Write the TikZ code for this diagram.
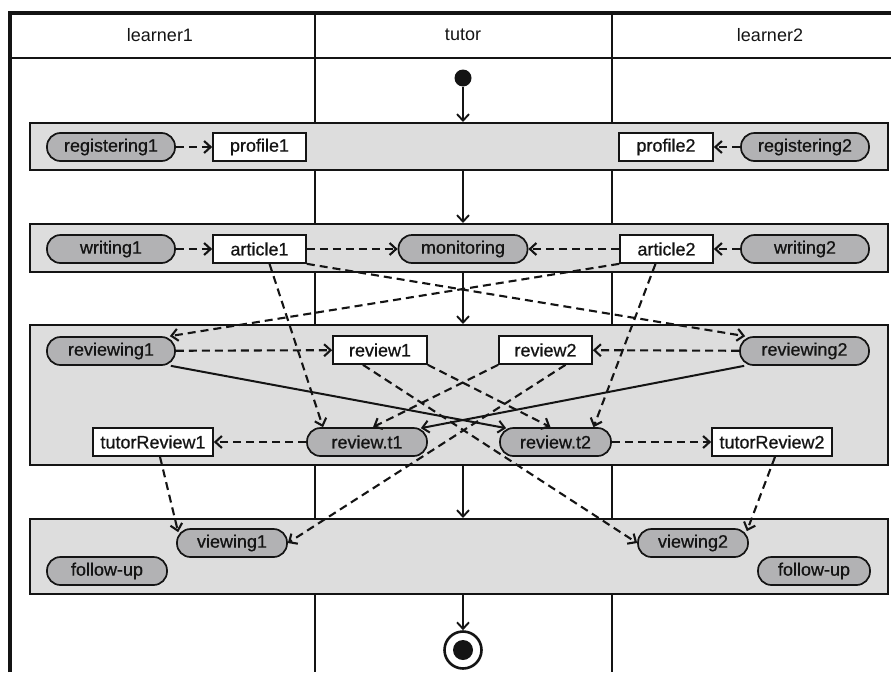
\documentclass[tikz,border=0pt]{standalone}
\usepackage{fontspec}
\setmainfont{Liberation Sans}
\newfontfamily\labelfont[FakeBold=0.7]{Liberation Sans}
\usetikzlibrary{arrows.meta,calc}

\definecolor{bandgray}{RGB}{221,221,221}
\definecolor{actgray}{RGB}{178,178,180}
\definecolor{ink}{RGB}{20,20,20}

\tikzset{
  every node/.style={font=\labelfont\fontsize{18}{20}\selectfont, text=ink},
  lanehead/.style={font=\rmfamily\fontsize{18}{20}\selectfont},
  band/.style={draw=ink, line width=2pt, fill=bandgray, inner sep=0pt},
  activity/.style={draw=ink, line width=1.7pt, fill=actgray, rounded corners=13.5pt,
                   minimum height=28pt, inner sep=0pt},
  artifact/.style={draw=ink, line width=1.7pt, fill=white, minimum height=28pt, inner sep=0pt},
  tip/.style={-{Straight Barb[length=6.5pt,width=12pt]}},
  dep/.style={tip, draw=ink, line width=2.1pt, dash pattern=on 8pt off 5pt},
  flow/.style={tip, draw=ink, line width=1.9pt},
}

\begin{document}
\begin{tikzpicture}[x=1pt, y=-1pt]
\useasboundingbox (0,0) rectangle (891,672);

% swimlane frame and headers
\draw[ink, line width=1.3pt] (315,13) -- (315,672) (612,13) -- (612,672);
\draw[ink, line width=2pt] (10,58) -- (891,58);
\draw[ink, line width=3.2pt] (10,672) -- (10,13) -- (891,13);
\node[lanehead] (hl1) at (160,35) {learner1};
\node[lanehead] (ht)  at (463,35) {tutor};
\node[lanehead] (hl2) at (770,35) {learner2};

% phase bands
\node[band, minimum width=858pt, minimum height=47pt]  (band1) at (459,146.5) {};
\node[band, minimum width=858pt, minimum height=48pt]  (band2) at (459,248) {};
\node[band, minimum width=858pt, minimum height=140pt] (band3) at (459,395) {};
\node[band, minimum width=858pt, minimum height=75pt]  (band4) at (459,556.5) {};

% start and end
\node[circle, fill=ink, minimum size=17pt, inner sep=0pt] (start) at (463,78) {};
\node[circle, draw=ink, line width=2.6pt, fill=white, minimum size=37pt, inner sep=0pt] (final) at (463,650) {};
\node[circle, fill=ink, minimum size=20pt, inner sep=0pt] (finaldot) at (final) {};

% registration
\node[activity, minimum width=128pt] (registering1) at (111,147) {registering1};
\node[artifact, minimum width=93pt]  (profile1)     at (259.5,147) {profile1};
\node[artifact, minimum width=94pt]  (profile2)     at (666,147) {profile2};
\node[activity, minimum width=128pt] (registering2) at (805,147) {registering2};

% writing
\node[activity, minimum width=128pt] (writing1)   at (111,249) {writing1};
\node[artifact, minimum width=93pt]  (article1)   at (259.5,249) {article1};
\node[activity, minimum width=129pt] (monitoring) at (463,249) {monitoring};
\node[artifact, minimum width=93pt]  (article2)   at (666.5,249) {article2};
\node[activity, minimum width=128pt] (writing2)   at (805,249) {writing2};

% reviewing
\node[activity, minimum width=128pt] (reviewing1)   at (111,351) {reviewing1};
\node[artifact, minimum width=94pt]  (review1)      at (380,350) {review1};
\node[artifact, minimum width=93pt]  (review2)      at (545.5,350) {review2};
\node[activity, minimum width=129pt] (reviewing2)   at (804.5,351) {reviewing2};
\node[artifact, minimum width=120pt] (tutorReview1) at (153,442) {tutorReview1};
\node[activity, minimum width=120pt] (reviewt1)     at (367,442) {review.t1};
\node[activity, minimum width=111pt] (reviewt2)     at (555.5,442) {review.t2};
\node[artifact, minimum width=120pt] (tutorReview2) at (772,442) {tutorReview2};

% viewing
\node[activity, minimum width=110pt] (viewing1)  at (232,543) {viewing1};
\node[activity, minimum width=110pt] (viewing2)  at (693,543) {viewing2};
\node[activity, minimum width=120pt] (followup1) at (107,571) {follow-up};
\node[activity, minimum width=112pt] (followup2) at (814,571) {follow-up};

% control flow through the phases
\draw[flow] (start) -- (start |- band1.north);
\draw[flow] (band1.south -| start) -- (band2.north -| start);
\draw[flow] (band2.south -| start) -- (band3.north -| start);
\draw[flow] (band3.south -| start) -- (band4.north -| start);
\draw[flow] (band4.south -| start) -- (final.north);

% object flows
\draw[dep] (registering1) -- (profile1);
\draw[dep] (registering2) -- (profile2);
\draw[dep] (writing1) -- (article1);
\draw[dep] (article1) -- (monitoring);
\draw[dep] (article2) -- (monitoring);
\draw[dep] (writing2) -- (article2);

\draw[dep] (article1.south east) -- ([xshift=6pt]reviewing2.north west);
\draw[dep] (article2.south west) -- ([xshift=-6pt]reviewing1.north east);
\draw[dep] ([xshift=10pt]article1.south) -- ([xshift=-44pt]reviewt1.north);
\draw[dep] ([xshift=-11pt]article2.south) -- ([xshift=38pt]reviewt2.north);

\draw[dep] (reviewing1) -- (review1);
\draw[dep] (reviewing2) -- (review2);
\draw[flow, line width=2pt] ([xshift=-5pt]reviewing1.south east) -- ([xshift=7pt,yshift=-1pt]reviewt2.north west);
\draw[flow, line width=2pt] ([xshift=5pt]reviewing2.south west) -- ([xshift=-7pt,yshift=-1pt]reviewt1.north east);

\draw[dep] (review1.south east) -- ([xshift=-5pt]reviewt2.north);
\draw[dep] ([xshift=-17pt]review1.south) -- (viewing2.west);
\draw[dep] (review2.south west) -- ([xshift=6pt]reviewt1.north);
\draw[dep] ([xshift=20pt]review2.south) -- (viewing1.east);

\draw[dep] (reviewt1) -- (tutorReview1);
\draw[dep] (reviewt2) -- (tutorReview2);
\draw[dep] ([xshift=7pt]tutorReview1.south) -- ([xshift=2pt,yshift=-4pt]viewing1.north west);
\draw[dep] ([xshift=3pt]tutorReview2.south) -- ([xshift=-2pt,yshift=-3pt]viewing2.north east);
\end{tikzpicture}
\end{document}
